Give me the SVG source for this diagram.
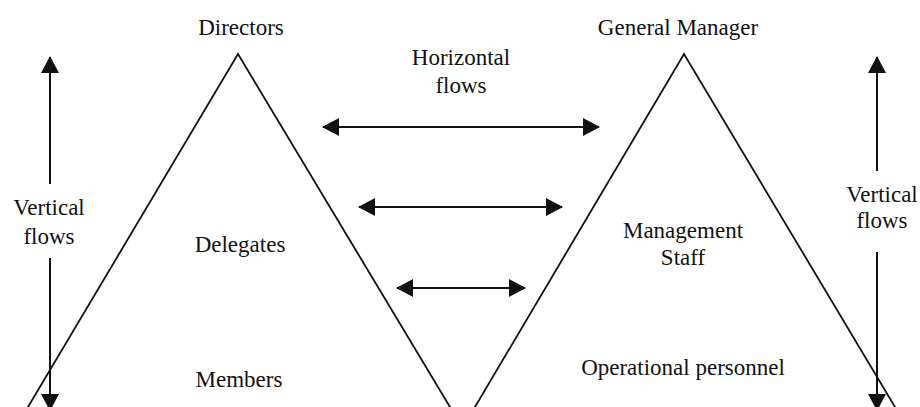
<svg xmlns="http://www.w3.org/2000/svg" width="920" height="407" viewBox="0 0 920 407">
  <style>
    text { font-family: "Liberation Serif", "Times New Roman", serif; font-size: 23px; fill: #111; text-anchor: middle; }
    .tri { fill: none; stroke: #111; stroke-width: 1.8; }
    .arr { stroke: #111; stroke-width: 2; fill: none; }
  </style>
  <defs>
    <marker id="ah" viewBox="0 0 17 18" refX="16" refY="9" markerWidth="17" markerHeight="18" markerUnits="userSpaceOnUse" orient="auto-start-reverse">
      <path d="M0,0 L17,9 L0,18 z" fill="#111"/>
    </marker>
  </defs>
  <rect width="920" height="407" fill="#fff"/>

  <g id="left-pyramid">
    <polyline class="tri" points="25,412 238,54 453,412"/>
    <text x="241" y="35">Directors</text>
    <text x="240" y="252">Delegates</text>
    <text x="239" y="387">Members</text>
  </g>

  <g id="right-pyramid">
    <polyline class="tri" points="472,412 684,54 898,412"/>
    <text x="678" y="35">General Manager</text>
    <text x="683" y="238">Management</text>
    <text x="683" y="265">Staff</text>
    <text x="683" y="375">Operational personnel</text>
  </g>

  <g id="horizontal-label">
    <text x="461" y="65">Horizontal</text>
    <text x="461" y="93">flows</text>
  </g>

  <g id="left-vertical-label">
    <text x="49" y="215">Vertical</text>
    <text x="49" y="244">flows</text>
  </g>

  <g id="right-vertical-label">
    <text x="882" y="202">Vertical</text>
    <text x="882" y="228">flows</text>
  </g>

  <g id="connectors">
    <line class="arr" x1="323" y1="127" x2="599" y2="127" marker-start="url(#ah)" marker-end="url(#ah)"/>
    <line class="arr" x1="359" y1="207" x2="562" y2="207" marker-start="url(#ah)" marker-end="url(#ah)"/>
    <line class="arr" x1="397" y1="288" x2="525" y2="288" marker-start="url(#ah)" marker-end="url(#ah)"/>
    <line class="arr" x1="50" y1="184" x2="50" y2="57" marker-end="url(#ah)"/>
    <line class="arr" x1="50" y1="258" x2="50" y2="410" marker-end="url(#ah)"/>
    <line class="arr" x1="877" y1="171" x2="877" y2="57" marker-end="url(#ah)"/>
    <line class="arr" x1="877" y1="252" x2="877" y2="410" marker-end="url(#ah)"/>
  </g>
</svg>
